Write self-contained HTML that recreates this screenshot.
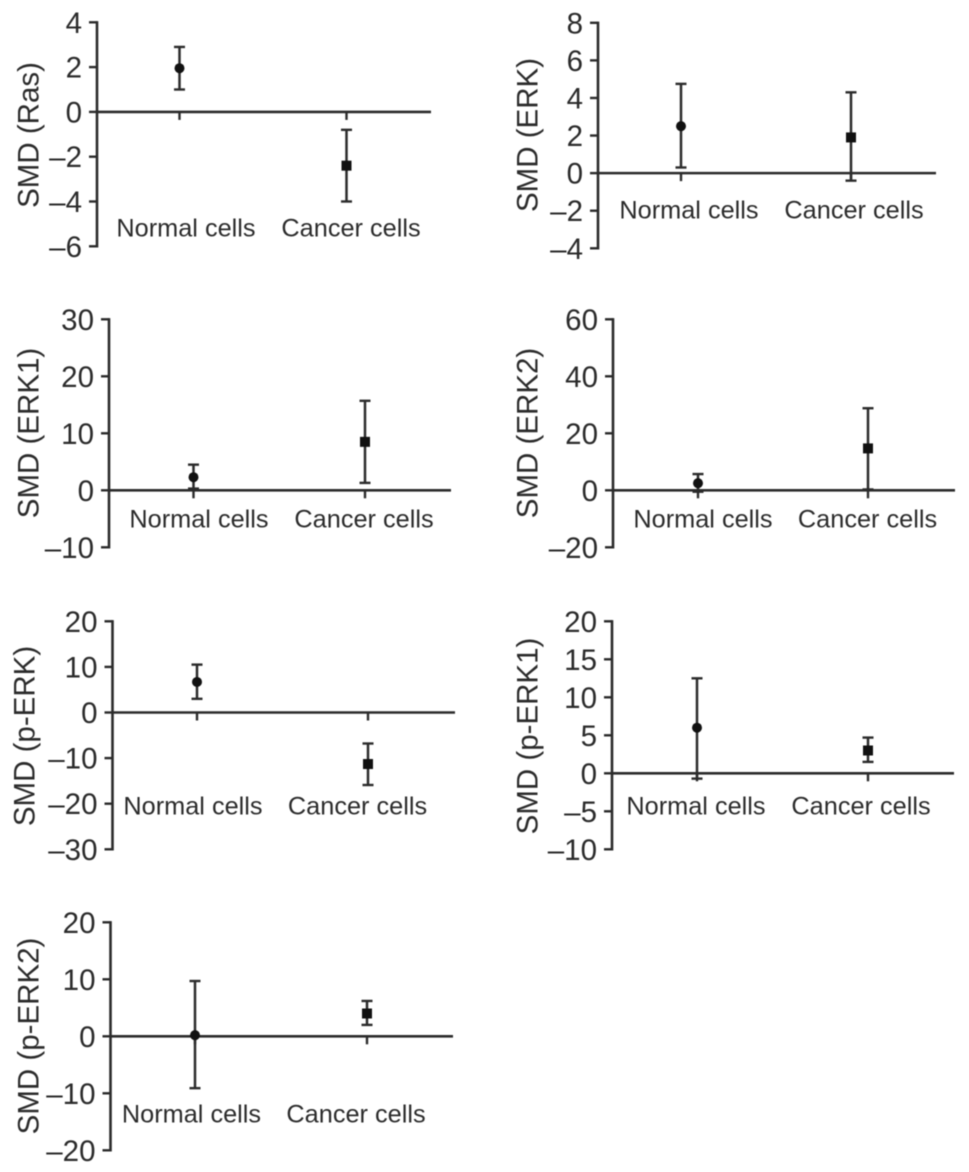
<!DOCTYPE html>
<html lang="en">
<head>
<meta charset="utf-8">
<title>SMD by cell type</title>
<style>
html,body{margin:0;padding:0;background:#fff;}
#figure{display:block;width:969px;height:1172px;filter:blur(0.55px);}
text{font-family:"Liberation Sans",Arial,sans-serif;fill:#2b2b2b;}
</style>
</head>
<body>
<svg id="figure" xmlns="http://www.w3.org/2000/svg" width="969" height="1172" viewBox="0 0 969 1172"></svg>
<script>
// Chart data
const categories = ['Normal cells', 'Cancer cells'];
const yTitles = ['SMD (Ras)', 'SMD (ERK)', 'SMD (ERK1)', 'SMD (ERK2)', 'SMD (p-ERK)', 'SMD (p-ERK1)', 'SMD (p-ERK2)'];
const tickValues = [
  [4, 2, 0, -2, -4, -6],
  [8, 6, 4, 2, 0, -2, -4],
  [30, 20, 10, 0, -10],
  [60, 40, 20, 0, -20],
  [20, 10, 0, -10, -20, -30],
  [20, 15, 10, 5, 0, -5, -10],
  [20, 10, 0, -10, -20]
];
const means = [[1.95, -2.4], [2.5, 1.9], [2.3, 8.5], [2.5, 14.7], [6.7, -11.3], [6, 3], [0.2, 4]];
const lows = [[1, -4], [0.3, -0.4], [0.3, 1.3], [-0.5, 0.3], [3, -15.9], [-0.7, 1.5], [-9.1, 2]];
const highs = [[2.9, -0.8], [4.75, 4.3], [4.5, 15.7], [5.7, 28.8], [10.5, -6.8], [12.5, 4.7], [9.7, 6.2]];

// Panel layout (pixels)
const panelBoxes = [
  {axisX: 97,    top: 22.3,  bottom: 246.3,  endX: 431, catX: [179.5, 346.5], labelX: [186, 351],     labelY: 236.5, titleX: 38.5,  titleY: 135},
  {axisX: 598,   top: 22.8, bottom: 248.3, endX: 936, catX: [681, 851],     labelX: [689, 854],     labelY: 218.5, titleX: 537.5, titleY: 135},
  {axisX: 109,   top: 319.3, bottom: 547.3,  endX: 451, catX: [193.5, 365],   labelX: [199, 364],     labelY: 527.5, titleX: 38.5,  titleY: 433},
  {axisX: 613,   top: 319.3, bottom: 547.3,  endX: 955, catX: [698, 868],     labelX: [703, 867.5],   labelY: 527.5, titleX: 537.5, titleY: 433},
  {axisX: 112.5, top: 621.3, bottom: 849.3,  endX: 455, catX: [197, 368],     labelX: [193, 357.5],   labelY: 814.5, titleX: 34.5,  titleY: 736},
  {axisX: 612,   top: 621.3, bottom: 849.3,  endX: 954, catX: [697, 868],     labelX: [696, 861],     labelY: 814.5, titleX: 537.5, titleY: 736},
  {axisX: 110.5, top: 922.3, bottom: 1150.3, endX: 453, catX: [195, 367],     labelX: [191.5, 356],   labelY: 1122.5, titleX: 38.5, titleY: 1036}
];

const SVG_NS = 'http://www.w3.org/2000/svg';
const INK = '#2b2b2b';
const figure = document.getElementById('figure');

function make(parent, tag, attrs, content) {
  const el = document.createElementNS(SVG_NS, tag);
  for (const key in attrs) el.setAttribute(key, attrs[key]);
  if (content !== undefined) el.textContent = content;
  parent.appendChild(el);
  return el;
}
function line(parent, x1, y1, x2, y2, width) {
  return make(parent, 'line', {x1: x1, y1: y1, x2: x2, y2: y2, stroke: INK, 'stroke-width': width});
}
function formatTick(v) {
  return v < 0 ? '\u2013' + Math.abs(v) : String(v);
}

yTitles.forEach(function (title, p) {
  const box = panelBoxes[p];
  const ticks = tickValues[p];
  const maxV = ticks[0];
  const minV = ticks[ticks.length - 1];
  const yScale = function (v) {
    return box.top + (maxV - v) / (maxV - minV) * (box.bottom - box.top);
  };

  const group = make(figure, 'g', {});
  
  

  const yTitle = make(group, 'text', {
    x: box.titleX, y: box.titleY, 'font-size': 29.5, 'text-anchor': 'middle',
    transform: 'rotate(-90 ' + box.titleX + ' ' + box.titleY + ')'
  }, title);
  
  

  const yAxis = line(group, box.axisX, box.top - 1.2, box.axisX, box.bottom + 1.2, 2.6);
  
  

  ticks.forEach(function (v) {
    const y = yScale(v);
    const tick = line(group, box.axisX - 8, y, box.axisX, y, 2.4);
    
    
    const label = make(group, 'text', {
      x: box.axisX - 15, y: y + 10.5, 'font-size': 29.5, 'text-anchor': 'end'
    }, formatTick(v));
    
    
  });

  const zeroY = yScale(0);
  const xAxis = line(group, box.axisX, zeroY, box.endX, zeroY, 2.6);
  
  

  categories.forEach(function (cat, c) {
    const x = box.catX[c];
    const slug = cat.split(' ')[0].toLowerCase();

    const catTick = line(group, x, zeroY, x, zeroY + 8, 2.4);
    
    

    const catLabel = make(group, 'text', {
      x: box.labelX[c], y: box.labelY, 'font-size': 25.3, 'text-anchor': 'middle'
    }, cat);
    
    

    const hiY = yScale(highs[p][c]);
    const loY = yScale(lows[p][c]);
    const midY = yScale(means[p][c]);

    const stem = line(group, x, hiY, x, loY, 2.5);
    
    
    const capTop = line(group, x - 5.5, hiY, x + 5.5, hiY, 2.4);
    
    
    const capBottom = line(group, x - 5.5, loY, x + 5.5, loY, 2.4);
    
    

    let marker;
    if (c === 0) {
      marker = make(group, 'circle', {cx: x, cy: midY, r: 5, fill: '#111'});
    } else {
      marker = make(group, 'rect', {x: x - 5, y: midY - 5, width: 10, height: 10, fill: '#111'});
    }
    
    
  });
});
</script>
</body>
</html>
